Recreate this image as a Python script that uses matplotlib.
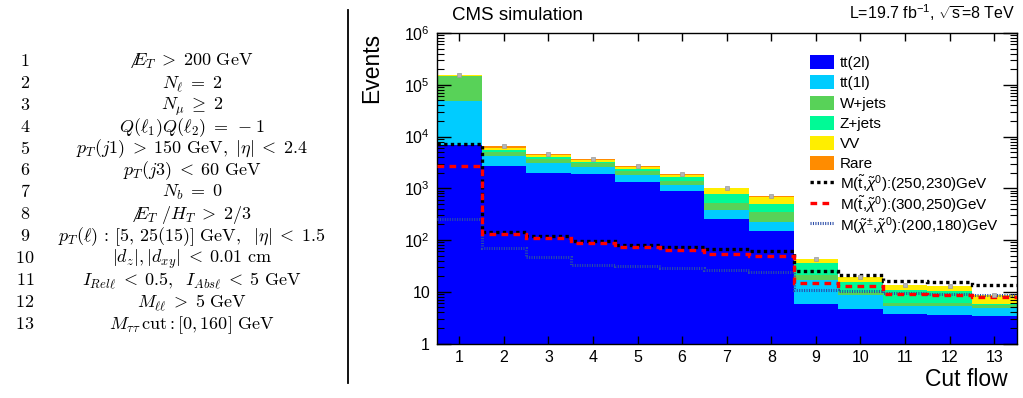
import numpy as np
import matplotlib
matplotlib.use("Agg")
import matplotlib.pyplot as plt
from matplotlib.patches import Patch, Rectangle
from matplotlib.lines import Line2D
from matplotlib.legend_handler import HandlerPatch
from matplotlib.ticker import LogLocator, FixedLocator, FixedFormatter, NullFormatter
from matplotlib.font_manager import FontProperties

plt.rcParams['font.family'] = ['Liberation Sans', 'DejaVu Sans']
plt.rcParams['mathtext.fontset'] = 'custom'
plt.rcParams['mathtext.rm'] = 'Liberation Sans'
plt.rcParams['mathtext.it'] = 'Liberation Sans:italic'
plt.rcParams['mathtext.bf'] = 'Liberation Sans:bold'

# ---------------- data ----------------
bins = list(range(1, 14))
tt2l = [7000, 2735, 1938, 1888, 1320, 867, 252, 150, 5.7, 4.57, 3.66, 3.6, 3.39]
tt1l = [41400, 1410, 1147, 682, 508, 303, 132, 77, 11.0, 3.98, 1.54, 1.6, 1.54]
wjets = [99600, 900, 655, 520, 292, 186, 146, 125, 4.3, 1.35, 0.86, 0.8, 0.54]
zjets = [600, 550, 225, 180, 240, 266, 252, 148, 15.0, 5.6, 4.64, 4.4, 0.43]
vv = [2400, 335, 370, 305, 175, 152, 209, 175, 6.0, 3.4, 2.7, 2.4, 2.65]
rare = [1000, 550, 342, 115, 200, 114, 29, 30, 0.6, 0.3, 0.2, 0.2, 0.15]

sig_stop_250_230 = [7200, 140, 121, 95, 80, 72, 66, 60, 25, 20.9, 16, 15.1, 13.8]
sig_stop_300_250 = [2650, 131, 108, 88, 72, 65, 54, 48, 14.6, 12.8, 9.2, 8.8, 7.9]
sig_chi_200_180 = [250, 70, 46, 33, 31, 29, 26, 24, 11, 10.4, 9.5, 9.2, 8.8]

bkg_labels = ['tt(2l)', 'tt(1l)', 'W+jets', 'Z+jets', 'VV', 'Rare']
sig_labels = [r'M($\tilde{\mathrm{t}}$,$\tilde{\chi}^{0}$):(250,230)GeV',
              r'M($\tilde{\mathrm{t}}$,$\tilde{\chi}^{0}$):(300,250)GeV',
              r'M($\tilde{\chi}^{\pm}$,$\tilde{\chi}^{0}$):(200,180)GeV']
ytick_vals = [1, 10, 100, 1e3, 1e4, 1e5, 1e6]
ytick_labels = ['1', '10', r'$10^{2}$', r'$10^{3}$', r'$10^{4}$', r'$10^{5}$', r'$10^{6}$']

# check \not support
from matplotlib.mathtext import MathTextParser
try:
    MathTextParser('path').parse(r'$\not E_T$')
    MET = r'\not\!\!E_T'
except Exception:
    MET = r'E\!\!\!\!\!/_T'

cut_labels = [
    r'$' + MET + r'\; > \;200\ \mathrm{GeV}$',
    r'$N_\ell \; = \; 2$',
    r'$N_\mu \; \geq \; 2$',
    r'$Q(\ell_1)Q(\ell_2) \; = \; -1$',
    r'$p_T(j1) \; > \; 150\ \mathrm{GeV},\ |\eta| \; < \; 2.4$',
    r'$p_T(j3) \; < \; 60\ \mathrm{GeV}$',
    r'$N_b \; = \; 0$',
    r'$' + MET + r'\ /H_T \; > \; 2/3$',
    r'$p_T(\ell) \, : \, [5,\, 25(15)]\ \mathrm{GeV},\;\ |\eta| \; < \; 1.5$',
    r'$|d_z|, |d_{xy}| \; < \; 0.01\ \mathrm{cm}$',
    r'$I_{Rel\ell} \; < \; 0.5,\;\ I_{Abs\ell} \; < \; 5\ \mathrm{GeV}$',
    r'$M_{\ell\ell} \; > \; 5\ \mathrm{GeV}$',
    r'$M_{\tau\tau}\,\mathrm{cut}:[0, 160]\ \mathrm{GeV}$',
]

bkg_colors = ['#0000ff', '#00ccff', '#58d258', '#00fa96', '#ffee00', '#ff8c00']
chi_color = '#2a4ca8'

# ---------------- figure ----------------
W, H = 1023, 398
fig = plt.figure(figsize=(W / 100, H / 100), dpi=100)

def fx(px):
    return px / W

def fy(py):
    return 1 - py / H

ax = fig.add_axes([fx(437), fy(343.5), fx(1016.5) - fx(437), fy(33) - fy(343.5)])
ax.set_yscale('log', nonpositive='clip')

x = np.array(bins, dtype=float)
edges = np.concatenate([x - 0.5, [x[-1] + 0.5]])
layers = [tt2l, tt1l, wjets, zjets, vv, rare]
bottom = np.zeros(len(x))
for vals, col in zip(layers, bkg_colors):
    top = bottom + np.array(vals, dtype=float)
    ax.stairs(top, edges, baseline=bottom, fill=True, color=col, lw=0, zorder=1)
    bottom = top
total = bottom
ax.plot(x, total, 's', ms=3.5, color='#b4b4b4', mec='#9a9a9a', mew=0.5, zorder=4)

ax.stairs(sig_chi_200_180, edges, baseline=None, color=chi_color, lw=2.2,
          linestyle=(0, (0.35, 0.45)), zorder=3)
ax.stairs(sig_stop_250_230, edges, baseline=None, color='black', lw=2.4,
          linestyle=(0, (1, 1)), zorder=3)
ax.stairs(sig_stop_300_250, edges, baseline=None, color='#ff0000', lw=2.4,
          linestyle=(0, (2, 1.6)), zorder=3)

ax.set_xlim(0.5, 13.5)
ax.set_ylim(1, 1e6)
ax.xaxis.set_major_locator(FixedLocator(bins))
ax.set_xticklabels([str(b) for b in bins])
ax.yaxis.set_major_locator(FixedLocator(ytick_vals))
ax.yaxis.set_major_formatter(FixedFormatter(ytick_labels))
ax.yaxis.set_minor_locator(LogLocator(base=10, subs=np.arange(2, 10), numticks=20))
ax.yaxis.set_minor_formatter(NullFormatter())
ax.tick_params(axis='x', which='major', direction='in', top=True, length=6, width=1,
               labelsize=11.5, pad=5)
ax.tick_params(axis='x', which='minor', bottom=False, top=False)
ax.tick_params(axis='y', which='major', direction='in', right=True, length=10, width=1,
               labelsize=11.5, pad=5)
ax.tick_params(axis='y', which='minor', direction='in', right=True, length=5, width=0.8)
for s in ax.spines.values():
    s.set_linewidth(1)

ax.set_ylabel('Events', fontsize=16.5, loc='top')
ax.yaxis.set_label_coords((383 - 437) / 580, 1.0)
ax.set_xlabel('Cut flow', fontsize=16.5, loc='right')
ax.xaxis.set_label_coords((1008 - 437) / 580, -(368 - 343.5) / 310.5)

fig.text(fx(452), fy(19.5), 'CMS simulation', fontsize=13.5, va='baseline', ha='left')
fig.text(fx(1015), fy(19), r'L=19.7 fb$^{-1}$, $\sqrt{\mathrm{s}}$=8 TeV', fontsize=11.5,
         va='baseline', ha='right')

# legend: patches keep a fixed size inside a uniform row height
LEG_FS = 11
patch_px = 14.0


def small_patch(legend, orig_handle, xdescent, ydescent, width, height, fontsize):
    h = patch_px * 72 / 100
    return Rectangle((-xdescent, -ydescent + (height - h) / 2), width, h)


handles = [Patch(facecolor=c, edgecolor='none') for c in bkg_colors]
handles += [Line2D([], [], color='black', lw=2.4, linestyle=(0, (1, 1))),
            Line2D([], [], color='#ff0000', lw=2.4, linestyle=(0, (2, 1.6))),
            Line2D([], [], color=chi_color, lw=2.2, linestyle=(0, (0.35, 0.45)))]
leg = fig.legend(handles, bkg_labels + sig_labels, loc='upper left',
                 bbox_to_anchor=(fx(810), fy(52)), frameon=False, fontsize=LEG_FS,
                 borderpad=0, borderaxespad=0, handlelength=1.6,
                 handleheight=1.66, handletextpad=0.35, labelspacing=0.0,
                 handler_map={Patch: HandlerPatch(patch_func=small_patch)})

# ---------------- left table ----------------
tab_font = FontProperties(family='DejaVu Serif', size=13, math_fontfamily='cm')
row0, dy = 66, 21.9
for i, lab in enumerate(cut_labels):
    yb = row0 + i * dy
    fig.text(fx(25), fy(yb), r'$%d$' % (i + 1), fontproperties=tab_font,
             ha='center', va='baseline')
    fig.text(fx(192), fy(yb), lab, fontproperties=tab_font, ha='center', va='baseline')

fig.add_artist(Line2D([fx(348), fx(348)], [fy(10), fy(383)], color='black', lw=1.3))

fig.savefig('out.png', dpi=100)
